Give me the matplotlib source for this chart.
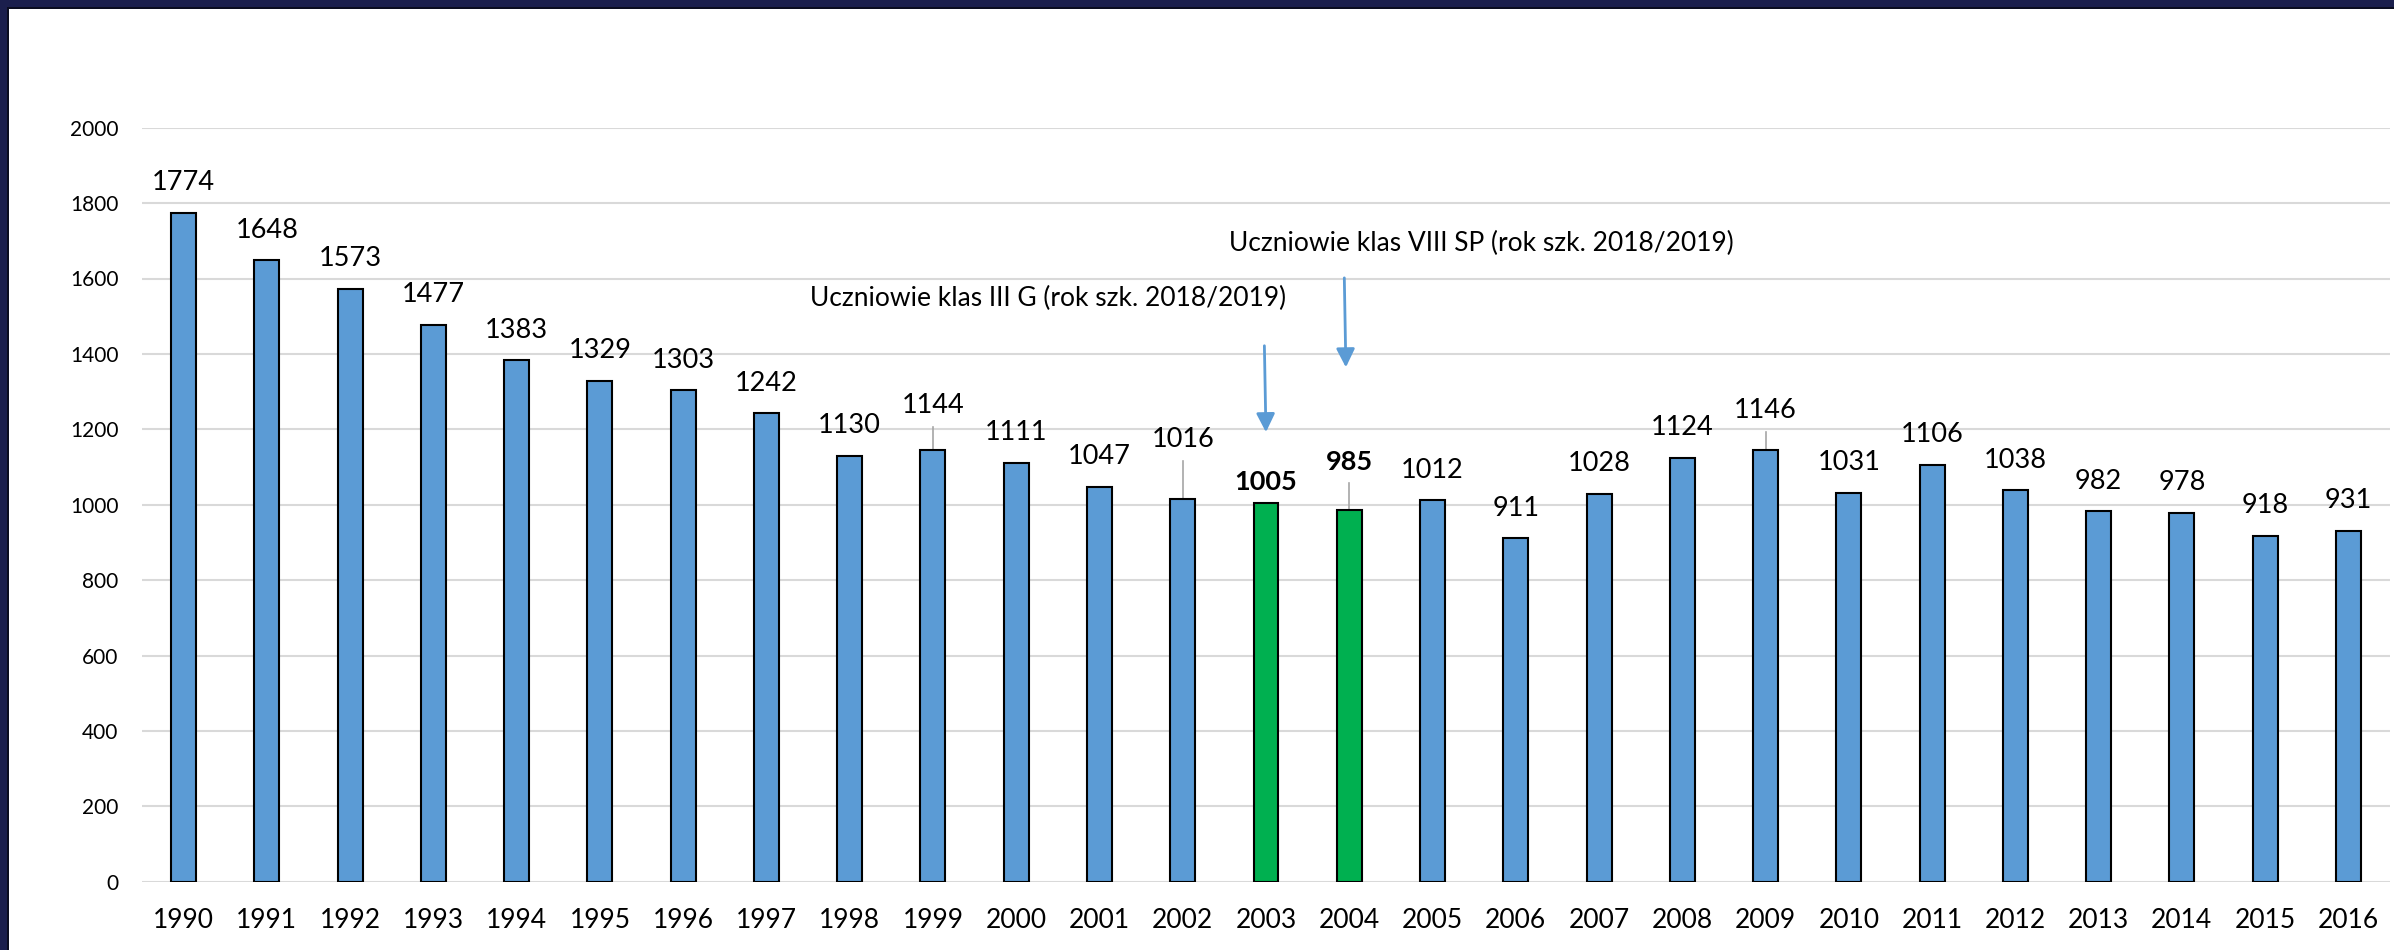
import matplotlib
matplotlib.use("Agg")
import matplotlib.pyplot as plt
from matplotlib.patches import Rectangle

# data
years = [1990, 1991, 1992, 1993, 1994, 1995, 1996, 1997, 1998, 1999, 2000, 2001, 2002,
         2003, 2004, 2005, 2006, 2007, 2008, 2009, 2010, 2011, 2012, 2013, 2014, 2015, 2016]
values = [1774, 1648, 1573, 1477, 1383, 1329, 1303, 1242, 1130, 1144, 1111, 1047, 1016,
          1005, 985, 1012, 911, 1028, 1124, 1146, 1031, 1106, 1038, 982, 978, 918, 931]
highlight_years = [2003, 2004]
y_ticks = [0, 200, 400, 600, 800, 1000, 1200, 1400, 1600, 1800, 2000]

note_g = "Uczniowie klas III G (rok szk. 2018/2019)"
note_sp = "Uczniowie klas VIII SP (rok szk. 2018/2019)"

# labels that were moved up with a leader line
lifted_labels = {1999: 1264, 2002: 1172, 2004: 1114, 2009: 1251}

plt.rcParams['font.family'] = ['Lato', 'DejaVu Sans']

blue = "#5b9bd5"
green = "#00b050"

fig = plt.figure(figsize=(23.94, 9.5), dpi=100)
fig.patch.set_facecolor("white")
ax = fig.add_axes([142 / 2394, 68.3 / 950, (2390 - 142) / 2394, (881.7 - 127.7) / 950])

x = list(range(len(years)))
colors = [green if y in highlight_years else blue for y in years]
ax.bar(x, values, width=0.3, color=colors, edgecolor="black", linewidth=1.5, zorder=3)

for i, (yr, v) in enumerate(zip(years, values)):
    weight = "bold" if yr in highlight_years else "normal"
    if yr in lifted_labels:
        ly = lifted_labels[yr]
        ax.plot([i, i], [v, ly - 57], color="#a6a6a6", linewidth=1.2, zorder=2)
    elif yr == 2003:
        ly = v + 56
    else:
        ly = v + 80
    ax.text(i, ly, str(v), ha="center", va="center", fontsize=19.5, fontweight=weight)

# annotation texts and arrows
ax.text(7.52, 1548, note_g, ha="left", va="center", fontsize=19)
ax.text(12.55, 1694, note_sp, ha="left", va="center", fontsize=19)
ax.annotate("", xy=(13.0, 1185), xytext=(12.98, 1429),
            arrowprops=dict(arrowstyle="-|>", color=blue, lw=2, mutation_scale=28))
ax.annotate("", xy=(13.96, 1357), xytext=(13.94, 1609),
            arrowprops=dict(arrowstyle="-|>", color=blue, lw=2, mutation_scale=28))

ax.set_xlim(-0.5, len(years) - 0.5)
ax.set_ylim(0, 2000)
ax.set_yticks(y_ticks)
ax.set_yticklabels([str(t) for t in y_ticks], fontsize=15)
ax.set_xticks(x)
ax.set_xticklabels([str(y) for y in years], fontsize=19)
ax.tick_params(axis="y", length=0, pad=17)
ax.tick_params(axis="x", length=0, pad=19)
ax.grid(axis="y", color="#d9d9d9", linewidth=1.5, zorder=0)
ax.set_axisbelow(True)
for s in ax.spines.values():
    s.set_visible(False)

# dark frame on top and left
fig.patches.append(Rectangle((0, 1 - 7 / 950), 1, 7 / 950, transform=fig.transFigure,
                             facecolor="#1b1f4d", edgecolor="none", zorder=0))
fig.patches.append(Rectangle((0, 0), 7 / 2394, 1, transform=fig.transFigure,
                             facecolor="#1b1f4d", edgecolor="none", zorder=0))
fig.patches.append(Rectangle((7 / 2394, 0), 2 / 2394, 1 - 7 / 950, transform=fig.transFigure,
                             facecolor="#0b0d20", edgecolor="none", zorder=0))
fig.patches.append(Rectangle((7 / 2394, 1 - 9 / 950), 1, 2 / 950, transform=fig.transFigure,
                             facecolor="#0b0d20", edgecolor="none", zorder=0))

fig.savefig("out.png", dpi=100)
